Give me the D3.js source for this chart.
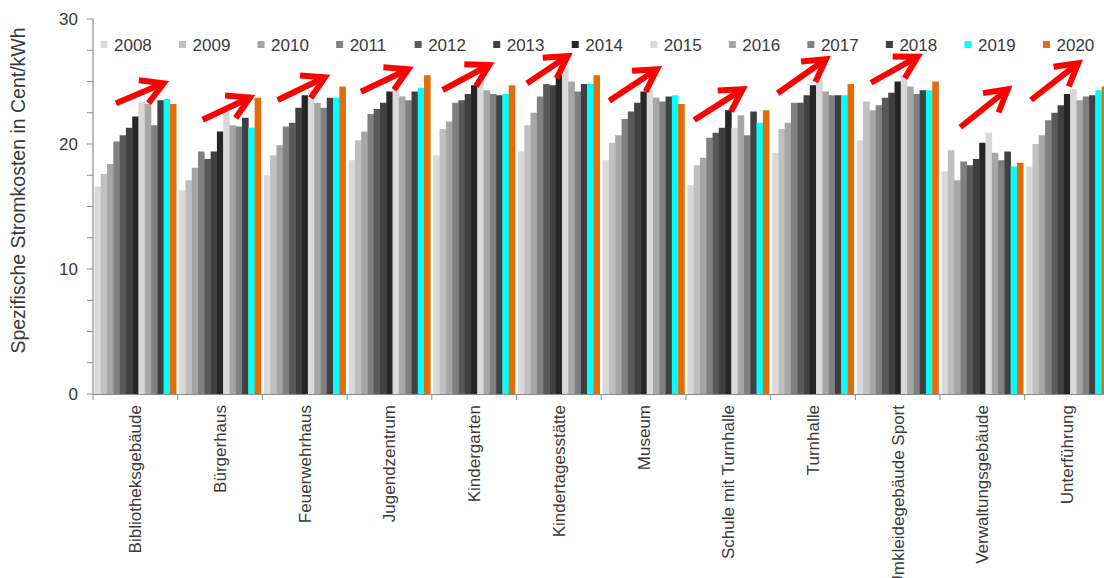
<!DOCTYPE html>
<html lang="de">
<head>
<meta charset="utf-8">
<title>Spezifische Stromkosten</title>
<script src="https://cdn.jsdelivr.net/npm/d3@7"></script>
<style>
  html, body { margin: 0; padding: 0; background: #fff; }
  svg { display: block; overflow: hidden; }
  text { font-family: "Liberation Sans", Arial, sans-serif; fill: #3a3a3a; }
</style>
</head>
<body>
<svg id="chart" width="1104" height="578"></svg>
<script>
// Building types
const categories = [
  "Bibliotheksgebäude", "Bürgerhaus", "Feuerwehrhaus", "Jugendzentrum",
  "Kindergarten", "Kindertagesstätte", "Museum", "Schule mit Turnhalle",
  "Turnhalle", "Umkleidegebäude Sport", "Verwaltungsgebäude", "Unterführung"
];

const years = ["2008", "2009", "2010", "2011", "2012", "2013", "2014",
               "2015", "2016", "2017", "2018", "2019", "2020"];

// Specific electricity cost (Cent/kWh), one array per year, in category order
const y2008 = [16.6, 16.3, 17.5, 18.7, 19.1, 19.4, 18.7, 16.7, 19.3, 20.3, 17.8, 18.2];
const y2009 = [17.6, 17.1, 19.1, 20.3, 21.2, 21.5, 20.1, 18.3, 21.2, 23.4, 19.5, 20.0];
const y2010 = [18.4, 18.1, 19.9, 21.0, 21.8, 22.5, 20.7, 18.9, 21.7, 22.7, 17.1, 20.7];
const y2011 = [20.2, 19.4, 21.4, 22.4, 23.3, 23.8, 22.0, 20.5, 23.3, 23.1, 18.6, 21.9];
const y2012 = [20.7, 18.8, 21.7, 22.8, 23.5, 24.8, 22.6, 20.9, 23.3, 23.7, 18.3, 22.5];
const y2013 = [21.3, 19.4, 22.9, 23.3, 24.0, 24.7, 23.3, 21.3, 23.9, 24.1, 18.8, 23.1];
const y2014 = [22.2, 21.0, 23.9, 24.2, 24.7, 25.5, 24.2, 22.7, 24.7, 25.0, 20.1, 24.0];
const y2015 = [23.4, 22.6, 24.3, 24.5, 25.2, 26.1, 24.3, 21.3, 25.1, 25.5, 20.9, 24.4];
const y2016 = [23.2, 21.5, 23.3, 23.8, 24.3, 25.0, 23.7, 22.3, 24.2, 24.6, 19.3, 23.5];
const y2017 = [21.5, 21.4, 22.9, 23.5, 24.0, 24.2, 23.4, 20.7, 23.9, 24.0, 18.7, 23.8];
const y2018 = [23.5, 22.1, 23.7, 24.2, 23.9, 24.8, 23.8, 22.6, 23.9, 24.3, 19.4, 23.9];
const y2019 = [23.6, 21.3, 23.7, 24.5, 24.0, 24.8, 23.9, 21.7, 23.9, 24.3, 18.2, 24.3];
const y2020 = [23.2, 23.7, 24.6, 25.5, 24.7, 25.5, 23.2, 22.7, 24.8, 25.0, 18.5, 24.6];

const yearValues = [y2008, y2009, y2010, y2011, y2012, y2013, y2014,
                    y2015, y2016, y2017, y2018, y2019, y2020];

const yTicks = [0, 10, 20, 30];

// Trend arrows per building: start/end as [position within group, value]
const trendArrows = [
  { cat: "Bibliotheksgebäude",    from: [0.254, 23.26], to: [0.817, 24.86] },
  { cat: "Bürgerhaus",            from: [0.277, 21.94], to: [0.836, 23.72] },
  { cat: "Feuerwehrhaus",         from: [0.163, 23.52], to: [0.721, 25.34] },
  { cat: "Jugendzentrum",         from: [0.146, 24.18], to: [0.705, 25.98] },
  { cat: "Kindergarten",          from: [0.111, 24.32], to: [0.661, 26.32] },
  { cat: "Kindertagesstätte",     from: [0.106, 24.85], to: [0.587, 27.04] },
  { cat: "Museum",                from: [0.078, 23.46], to: [0.641, 25.98] },
  { cat: "Schule mit Turnhalle",  from: [0.081, 21.92], to: [0.653, 24.38] },
  { cat: "Turnhalle",             from: [0.066, 24.06], to: [0.636, 26.78] },
  { cat: "Umkleidegebäude Sport", from: [0.168, 24.90], to: [0.719, 26.98] },
  { cat: "Verwaltungsgebäude",    from: [0.222, 21.34], to: [0.782, 24.38] },
  { cat: "Unterführung",          from: [0.057, 23.52], to: [0.615, 26.46] }
];

const colors = ["#d9d9d9", "#bfbfbf", "#a6a6a6", "#808080", "#595959", "#404040", "#262626",
                "#d9d9d9", "#a6a6a6", "#808080", "#404040", "#00ffff", "#e46c0a"];

const rows = categories.map((c, i) => ({
  cat: c,
  vals: years.map((yr, j) => ({ year: yr, value: yearValues[j][i] }))
}));

const svg = d3.select("#chart");
const axisColor = "#8c8c8c";

const plotLeft = 93, plotRight = 1109.4, plotTop = 19, plotBottom = 394;

const x = d3.scaleBand()
  .domain(categories)
  .range([plotLeft, plotRight])
  .paddingInner(0.035)
  .paddingOuter(0.0175);

const xs = d3.scaleBand().domain(years).range([0, x.bandwidth()]);

const y = d3.scaleLinear().domain([0, 30]).range([plotBottom, plotTop]);

const color = d3.scaleOrdinal().domain(years).range(colors);

// Bars
const groups = svg.append("g").selectAll("g")
  .data(rows)
  .join("g")
  .attr("transform", d => `translate(${x(d.cat)},0)`);

groups.selectAll("rect")
  .data(d => d.vals)
  .join("rect")
  .attr("x", d => xs(d.year))
  .attr("width", xs.bandwidth() + 0.3)
  .attr("y", d => y(d.value))
  .attr("height", d => y(0) - y(d.value))
  .attr("fill", d => color(d.year));

// Y axis with minor ticks every 2.5
const yAxis = svg.append("g").attr("transform", `translate(${plotLeft},0)`);
yAxis.append("line")
  .attr("x1", 0).attr("x2", 0)
  .attr("y1", y(30)).attr("y2", y(0))
  .attr("stroke", axisColor).attr("stroke-width", 1.2);
yAxis.selectAll("line.tick")
  .data(d3.range(0, 30.01, 2.5))
  .join("line")
  .attr("class", "tick")
  .attr("x1", -6).attr("x2", 0)
  .attr("y1", d => y(d)).attr("y2", d => y(d))
  .attr("stroke", axisColor).attr("stroke-width", 1);
yAxis.selectAll("text")
  .data(yTicks)
  .join("text")
  .attr("x", -15)
  .attr("y", d => y(d))
  .attr("dy", "0.36em")
  .attr("text-anchor", "end")
  .style("font-size", "17px")
  .text(d => d);

svg.append("text")
  .attr("transform", `translate(25,${(y(0) + y(30)) / 2 - 16}) rotate(-90)`)
  .attr("text-anchor", "middle")
  .style("font-size", "19.5px")
  .text("Spezifische Stromkosten in Cent/kWh");

// X axis: line, ticks at group boundaries, rotated labels
const xAxis = svg.append("g");
xAxis.append("line")
  .attr("x1", plotLeft).attr("x2", plotRight)
  .attr("y1", y(0) + 0.5).attr("y2", y(0) + 0.5)
  .attr("stroke", axisColor).attr("stroke-width", 1.2);
xAxis.selectAll("line.tick")
  .data(d3.range(categories.length + 1))
  .join("line")
  .attr("class", "tick")
  .attr("x1", i => plotLeft + i * x.step())
  .attr("x2", i => plotLeft + i * x.step())
  .attr("y1", y(0)).attr("y2", y(0) + 6)
  .attr("stroke", axisColor).attr("stroke-width", 1);
xAxis.selectAll("text")
  .data(categories)
  .join("text")
  .attr("transform", d => `translate(${x(d) + x.bandwidth() / 2},${y(0) + 11}) rotate(-90)`)
  .attr("dy", "0.35em")
  .attr("text-anchor", "end")
  .style("font-size", "17px")
  .text(d => d);

// Legend
const legendX = d3.scalePoint().domain(years).range([100.5, 1043]);
const legend = svg.append("g").selectAll("g")
  .data(years)
  .join("g")
  .attr("transform", d => `translate(${legendX(d)},41)`);
legend.append("rect")
  .attr("width", 7).attr("height", 7)
  .attr("fill", d => color(d));
legend.append("text")
  .attr("x", 13.5).attr("y", 10)
  .style("font-size", "17px")
  .text(d => d);

// Red trend arrows
const arrowG = svg.append("g")
  .attr("fill", "none")
  .attr("stroke", "#ff0000")
  .attr("stroke-width", 6)
  .attr("stroke-linejoin", "miter")
  .attr("stroke-linecap", "butt");

trendArrows.forEach(a => {
  const x0 = x(a.cat) + a.from[0] * x.step(), y0 = y(a.from[1]);
  const x1 = x(a.cat) + a.to[0] * x.step(), y1 = y(a.to[1]);
  const ang = Math.atan2(y0 - y1, x0 - x1);
  const len = 25, spread = 0.52;
  const b1 = [x1 + len * Math.cos(ang + spread), y1 + len * Math.sin(ang + spread)];
  const b2 = [x1 + len * Math.cos(ang - spread), y1 + len * Math.sin(ang - spread)];
  arrowG.append("path").attr("d", `M${x0},${y0}L${x1 + 4 * Math.cos(ang)},${y1 + 4 * Math.sin(ang)}`);
  arrowG.append("path").attr("d", `M${b1[0]},${b1[1]}L${x1},${y1}L${b2[0]},${b2[1]}`);
});
</script>
</body>
</html>
